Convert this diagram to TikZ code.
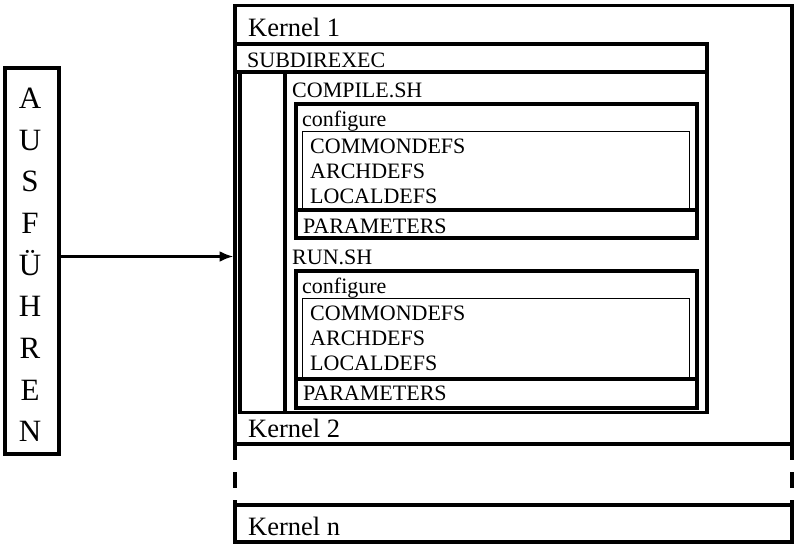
\documentclass[tikz,border=0pt]{standalone}
\usepackage{fontspec}
\setmainfont{Liberation Serif}
\usetikzlibrary{arrows.meta}
\tikzset{
  lbl/.style={anchor=base west, inner sep=0pt, font=\fontsize{22}{26}\selectfont},
  klbl/.style={anchor=base west, inner sep=0pt, font=\fontsize{26.5}{30}\selectfont},
  letter/.style={anchor=base, inner sep=0pt, font=\fontsize{31}{36}\selectfont},
  kline/.style={line width=3.5pt},
  heavy/.style={line width=4pt},
  fine/.style={line width=1pt},
}

\begin{document}
\begin{tikzpicture}[x=1pt, y=-1pt]
    \useasboundingbox (0,0) rectangle (795,544);

    % left box
    \node (exec) [draw, line width=3.5pt, minimum width=54pt, minimum height=386pt, inner sep=0pt] at (32,261) {};
    \foreach \l [count=\i from 0] in {A,U,S,F,Ü,H,R,E,N}
        \node (a\i) [letter] at (30,108.3+41.7*\i) {\l};

    % kernels
    \draw[kline] (235,5.5) rectangle (792,444);
    \draw[kline, dash pattern=on 16pt off 12pt] (235,444) -- (235,505);
    \draw[kline, dash pattern=on 16pt off 12pt] (792,444) -- (792,505);
    \draw[kline] (235,505) rectangle (792,542);

    % subdirexec
    \draw[kline] (235,44) rectangle (707,72);
    \draw[kline] (240,72) rectangle (707,412.5);
    \draw[heavy] (284.5,72) -- (284.5,412.5);

    % compile.sh
    \draw[fine] (302,131) rectangle (689,209);
    \draw[heavy] (295.5,103.5) rectangle (697,237.5);
    \draw[heavy] (295.5,209.5) -- (697,209.5);

    % run.sh
    \draw[fine] (302,298) rectangle (689,377);
    \draw[heavy] (295.5,270.5) rectangle (697,408);
    \draw[heavy] (295.5,378.5) -- (697,378.5);

    \node (k1)      [klbl] at (248,36)  {Kernel 1};
    \node (subdir)  [lbl]  at (247,67)  {SUBDIREXEC};
    \node (compile) [lbl]  at (292,97)  {COMPILE.SH};
    \node (cfg1)    [lbl]  at (302,126) {configure};
    \node (cdefs1)  [lbl]  at (310,153) {COMMONDEFS};
    \node (adefs1)  [lbl]  at (310,178) {ARCHDEFS};
    \node (ldefs1)  [lbl]  at (310,203) {LOCALDEFS};
    \node (par1)    [lbl]  at (303,233) {PARAMETERS};
    \node (run)     [lbl]  at (292,264) {RUN.SH};
    \node (cfg2)    [lbl]  at (302,293) {configure};
    \node (cdefs2)  [lbl]  at (310,320) {COMMONDEFS};
    \node (adefs2)  [lbl]  at (310,345) {ARCHDEFS};
    \node (ldefs2)  [lbl]  at (310,370) {LOCALDEFS};
    \node (par2)    [lbl]  at (303,400) {PARAMETERS};
    \node (k2)      [klbl] at (248,437) {Kernel 2};
    \node (kn)      [klbl] at (248,535) {Kernel n};

    \coordinate (arrowin) at (233.5,256.5);
    \draw[line width=3.5pt, -{Latex[length=14pt,width=11pt]}] (exec.east |- arrowin) -- (arrowin);
\end{tikzpicture}
\end{document}
